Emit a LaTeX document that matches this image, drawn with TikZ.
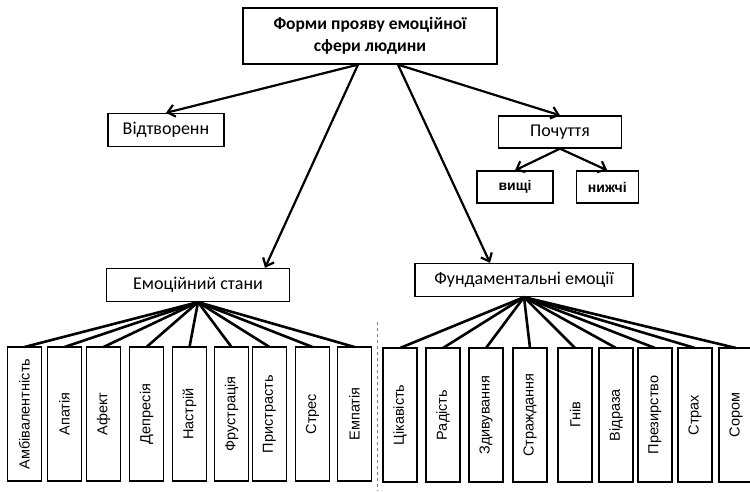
\documentclass[tikz,border=0pt]{standalone}
\usepackage{fontspec}
\setmainfont{Carlito}
\newfontfamily\arialfont{Liberation Sans}
\usetikzlibrary{positioning,arrows.meta}
\begin{document}
\begin{tikzpicture}[
 x=1pt, y=-1pt,
 box/.style={rectangle, draw, line width=1.3pt, inner sep=0pt, minimum height=33pt, font=\fontsize{18}{20}\selectfont},
 titlebox/.style={box, minimum width=254pt, minimum height=56pt, align=center, font=\fontsize{17.5}{22}\selectfont\bfseries},
 subbox/.style={box, minimum height=32pt, font=\arialfont\fontsize{14}{16}\selectfont\bfseries},
 vbox/.style={rectangle, draw, line width=1.6pt, inner sep=0pt, outer sep=0pt, minimum width=34pt, minimum height=134pt, font=\arialfont\fontsize{14.5}{16}\selectfont},
 arrow/.style={-{Straight Barb[length=7pt,width=12pt]}, line width=2.2pt},
 fan/.style={line width=2.6pt},
 sep/.style={dashed, gray, line width=1pt}
 ]
 \useasboundingbox (0,0) rectangle (750,491);

 % Title
 \node[titlebox] (title) at (370,36) {Форми прояву емоційної\\сфери людини};

 % Second level
 \node[box, minimum width=116pt] (vidtv) at (166,130) {Відтворенн};
 \node[box, minimum width=123pt, minimum height=32pt] (poch) at (560,132) {Почуття};
 \node[subbox, minimum width=76pt] (vyshchi) at (515,187) {вищі};
 \node[subbox, minimum width=62pt, right=22pt of vyshchi] (nyzhchi) {нижчі};
 \node[box, minimum width=183pt] (emstan) at (198,285) {Емоційний стани};
 \node[box, minimum width=218pt] (fund) at (524,280) {Фундаментальні емоції};

 % Emotional states
 \node[vbox] (ambiv) at (24.5,414) {\rotatebox{90}{Амбівалентність}};
 \node[vbox, right=6pt of ambiv] (apat) {\rotatebox{90}{Апатія}};
 \node[vbox, right=5pt of apat] (afekt) {\rotatebox{90}{Афект}};
 \node[vbox, right=9pt of afekt] (depr) {\rotatebox{90}{Депресія}};
 \node[vbox, right=9pt of depr] (nastr) {\rotatebox{90}{Настрій}};
 \node[vbox, right=8pt of nastr] (frustr) {\rotatebox{90}{Фрустрація}};
 \node[vbox, right=4pt of frustr] (prystr) {\rotatebox{90}{Пристрасть}};
 \node[vbox, right=9pt of prystr] (stres) {\rotatebox{90}{Стрес}};
 \node[vbox, right=8pt of stres] (empat) {\rotatebox{90}{Емпатія}};

 % Fundamental emotions
 \node[vbox] (cikav) at (400,415) {\rotatebox{90}{Цікавість}};
 \node[vbox, right=9pt of cikav] (radist) {\rotatebox{90}{Радість}};
 \node[vbox, right=9pt of radist] (zdyv) {\rotatebox{90}{Здивування}};
 \node[vbox, right=10pt of zdyv] (strazh) {\rotatebox{90}{Страждання}};
 \node[vbox, right=11pt of strazh] (gniv) {\rotatebox{90}{Гнів}};
 \node[vbox, right=7pt of gniv] (vidraza) {\rotatebox{90}{Відраза}};
 \node[vbox, right=5pt of vidraza] (prezyr) {\rotatebox{90}{Презирство}};
 \node[vbox, right=6pt of prezyr] (strakh) {\rotatebox{90}{Страх}};
 \node[vbox, right=7pt of strakh] (sorom) {\rotatebox{90}{Сором}};

 % Separator
 \coordinate (septop) at (377,322);
 \coordinate (sepbot) at (377,491);
 \draw[sep] (septop) -- (sepbot);

 % Arrows from title
 \draw[arrow] ([xshift=-12pt]title.south) -- (vidtv.north);
 \draw[arrow] ([xshift=-12pt]title.south) -- ([xshift=67pt]emstan.north);
 \draw[arrow] ([xshift=28pt]title.south) -- ([xshift=-34pt]fund.north);
 \draw[arrow] ([xshift=28pt]title.south) -- (poch.north);
 \draw[arrow] (poch.south) -- (vyshchi.north);
 \draw[arrow] (poch.south) -- (nyzhchi.north);

 % Fan for emotional states
 \draw[fan] (emstan.south) -- (ambiv.north);
 \draw[fan] (emstan.south) -- (apat.north);
 \draw[fan] (emstan.south) -- (afekt.north);
 \draw[fan] (emstan.south) -- (depr.north);
 \draw[fan] (emstan.south) -- (nastr.north);
 \draw[fan] (emstan.south) -- (frustr.north);
 \draw[fan] (emstan.south) -- (prystr.north);
 \draw[fan] (emstan.south) -- (stres.north);
 \draw[fan] (emstan.south) -- (empat.north);

 % Fan for fundamental emotions
 \draw[fan] (fund.south) -- (cikav.north);
 \draw[fan] (fund.south) -- (radist.north);
 \draw[fan] (fund.south) -- (zdyv.north);
 \draw[fan] (fund.south) -- (strazh.north);
 \draw[fan] (fund.south) -- (gniv.north);
 \draw[fan] (fund.south) -- (vidraza.north);
 \draw[fan] (fund.south) -- (prezyr.north);
 \draw[fan] (fund.south) -- (strakh.north);
 \draw[fan] (fund.south) -- (sorom.north);
\end{tikzpicture}
\end{document}
